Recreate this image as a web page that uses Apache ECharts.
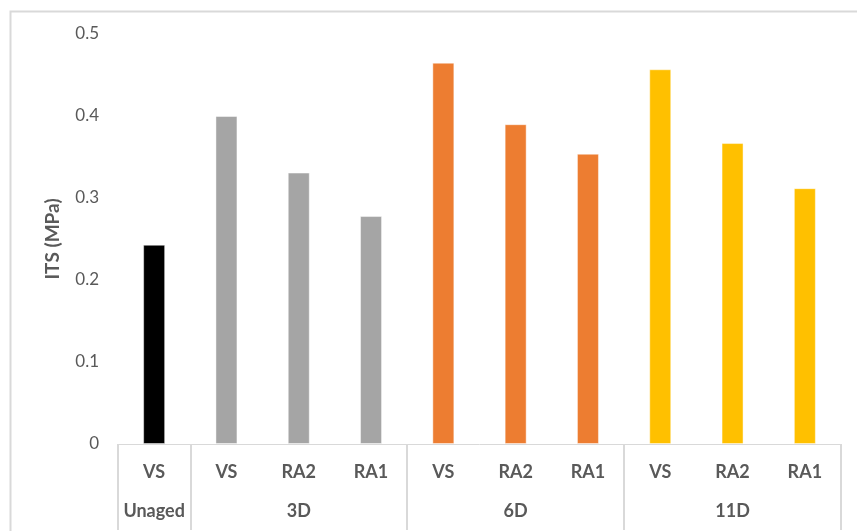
<!DOCTYPE html>
<html>
<head>
<meta charset="utf-8">
<script src="https://cdn.jsdelivr.net/npm/echarts@6/dist/echarts.min.js"></script>
<style>
  html, body { margin: 0; padding: 0; background: #fff; }
  #chart { width: 857px; height: 531px; }
</style>
</head>
<body>
<div id="chart"></div>
<script>
// bar labels (first row) and group labels (second row, centred on the middle bar)
const categories = ['VS', 'VS', 'RA2', 'RA1', 'VS', 'RA2', 'RA1', 'VS', 'RA2', 'RA1'];
const groupLabels = ['Unaged', '', '3D', '', '', '6D', '', '', '11D', ''];
const groupStarts = [0, 1, 4, 7];
const itsValues = [0.243, 0.400, 0.331, 0.278, 0.465, 0.390, 0.354, 0.457, 0.367, 0.312];
const barColors = ['#000000', '#a5a5a5', '#a5a5a5', '#a5a5a5', '#ed7d31', '#ed7d31', '#ed7d31', '#ffc000', '#ffc000', '#ffc000'];
const yTicks = { min: 0, max: 0.5, interval: 0.1 };

const font = 'Lato, "Open Sans", sans-serif';
const textColor = '#595959';
const lineColor = '#d9d9d9';

const chart = echarts.init(document.getElementById('chart'));

chart.setOption({
  animation: false,
  backgroundColor: '#fff',
  graphic: [{
    type: 'rect',
    left: 8, top: 9,
    shape: { width: 900, height: 600 },
    style: { fill: 'none', stroke: lineColor, lineWidth: 2 },
    silent: true
  }],
  grid: { left: 118, right: 16, top: 34, bottom: 87 },
  xAxis: [
    {
      type: 'category',
      data: categories,
      axisLine: { show: true, lineStyle: { color: lineColor, width: 1 } },
      axisTick: {
        show: true,
        length: 86,
        interval: (i) => groupStarts.includes(i),
        lineStyle: { color: lineColor, width: 2 }
      },
      axisLabel: {
        interval: 0,
        margin: 19,
        color: textColor,
        fontFamily: font,
        fontWeight: 'bold',
        fontSize: 18
      }
    },
    {
      type: 'category',
      position: 'bottom',
      data: groupLabels,
      axisLine: { show: false },
      axisTick: { show: false },
      axisLabel: {
        interval: 0,
        margin: 58,
        color: textColor,
        fontFamily: font,
        fontWeight: 'bold',
        fontSize: 18
      }
    }
  ],
  yAxis: {
    type: 'value',
    min: yTicks.min,
    max: yTicks.max,
    interval: yTicks.interval,
    name: 'ITS (MPa)',
    nameLocation: 'middle',
    nameRotate: 90,
    nameGap: 56,
    nameTextStyle: { color: textColor, fontFamily: font, fontWeight: 'bold', fontSize: 19 },
    axisLine: { show: false },
    axisTick: { show: false },
    splitLine: { show: false },
    axisLabel: { color: textColor, fontFamily: font, fontSize: 17, margin: 19 }
  },
  series: [{
    type: 'bar',
    barWidth: 22,
    data: itsValues.map((v, i) => ({
      value: v,
      itemStyle: { color: barColors[i], borderColor: 'rgba(255,255,255,0.45)', borderWidth: 1 }
    }))
  }]
});
</script>
</body>
</html>
